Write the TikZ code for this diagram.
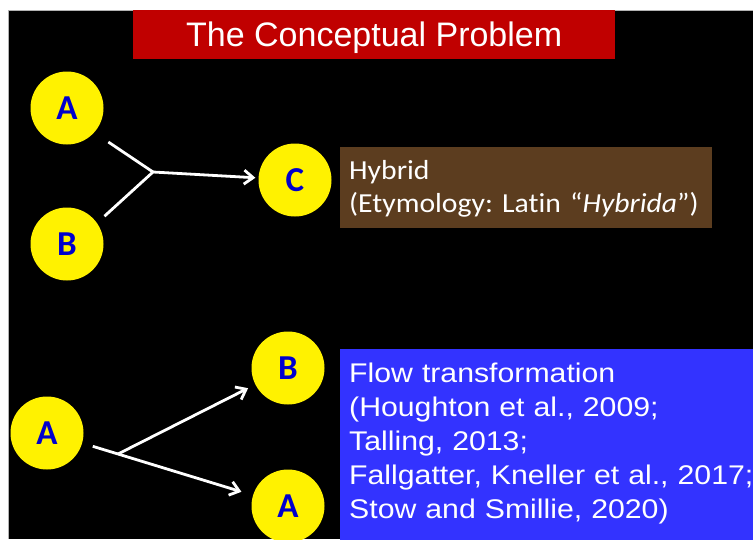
\documentclass[tikz,border=0pt]{standalone}
\usepackage{fontspec}
\setmainfont{Liberation Sans}
\newfontfamily\calfont{Carlito}
\newfontfamily\calwide[FakeStretch=1.08,Ligatures=NoCommon]{Carlito}
\newfontfamily\arwide[FakeStretch=1.12]{Liberation Sans}
\usetikzlibrary{arrows.meta}
\frenchspacing

\definecolor{titlered}{RGB}{192,0,0}
\definecolor{hybrown}{RGB}{92,61,31}
\definecolor{flowblue}{RGB}{51,51,255}
\definecolor{letterblue}{RGB}{0,0,204}

\begin{document}
\begin{tikzpicture}[x=1pt,y=-1pt,
    ball/.style={circle,fill=yellow,minimum size=73pt,inner sep=0pt,text=letterblue,
      text height=22.5pt,text depth=0pt,font=\calfont\bfseries\fontsize{35}{35}\selectfont},
    link/.style={white,line width=2.8pt},
    arr/.style={link,-{Straight Barb[length=9pt,width=14pt]}},
    textbox/.style={anchor=north west,text=white,align=left,inner xsep=9pt}]

            % Slide background
            \useasboundingbox (0,0) rectangle (753,539);
            \clip (0,0) rectangle (753,539);
            \fill[white] (0,0) rectangle (753,539);
            \fill[black] (8,10) rectangle (753,539);
            \draw[gray!60,line width=0.8pt] (8,539) -- (8,10) -- (753,10);

            \node[fill=titlered,anchor=north west,minimum width=482pt,minimum height=49pt,
              inner sep=0pt,text=white,text height=24pt,text depth=0pt,
              font=\fontsize{34}{34}\selectfont] (title) at (133,10) {The Conceptual Problem};

            % The circles
            \foreach \nm/\pos/\lab in {
            a1/{67,108}/A,
            b1/{67,244}/B,
            c1/{295,180}/C,
            a2/{47,433}/A,
            b2/{288,368}/B,
            a3/{288,506}/A} {
            \node[ball] (\nm) at (\pos) {\lab};
            }

            % Hybrid: two in, one out
            \coordinate (fork1) at (153,172);
            \draw[link,shorten <=17pt] (a1.-42) -- (fork1);
            \draw[link,shorten <=10pt] (b1.35) -- (fork1);
            \draw[arr,shorten >=3pt] (fork1) -- (c1);

            % Flow transformation: one in, two out
            \coordinate (fork2) at (118,454);
            \draw[link,shorten <=11pt] (a2.-16) -- (fork2);
            \draw[arr,shorten >=8pt] (fork2) -- (b2);
            \draw[arr,shorten >=12pt] (fork2) -- (a3);

            \node[textbox,fill=hybrown,text width=354pt,inner ysep=11pt,
              font=\calwide\fontsize{27.5}{33}\selectfont] (hybrid) at (340,147)
              {\rule{0pt}{21pt}Hybrid\\(Etymology: Latin “\textit{Hybrida}”)};

            \node[textbox,fill=flowblue,text width=420pt,inner ysep=14pt,
              font=\arwide\fontsize{27}{34}\selectfont] (flow) at (340,349)
              {Flow transformation\\(Houghton et al., 2009;\\Talling, 2013;\\Fallgatter, Kneller et al., 2017;\\Stow and Smillie, 2020)\rule[-10pt]{0pt}{0pt}};

\end{tikzpicture}
\end{document}
